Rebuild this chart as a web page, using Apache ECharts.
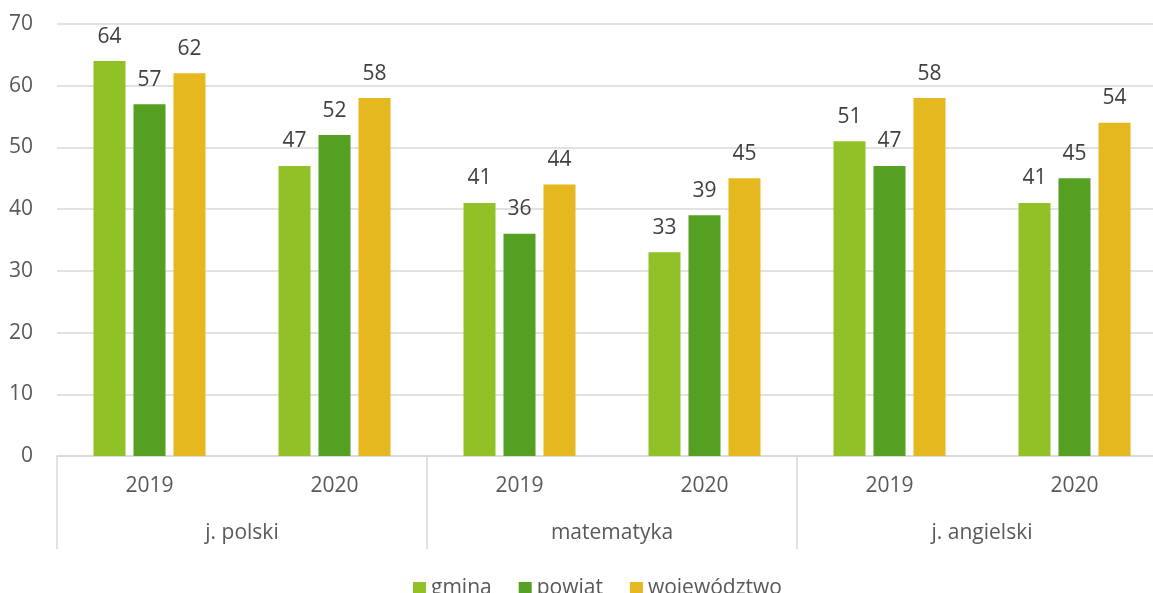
<!DOCTYPE html>
<html>
<head>
<meta charset="utf-8">
<script src="https://cdn.jsdelivr.net/npm/echarts@6/dist/echarts.min.js"></script>
<style>html,body{margin:0;padding:0;background:#fff}#c{width:1153px;height:593px}</style>
</head>
<body>
<div id="c"></div>
<script>
const years = ['2019','2020','2019','2020','2019','2020'];
const subjects = ['j. polski','matematyka','j. angielski'];
const gmina = [64,47,41,33,51,41];
const powiat = [57,52,36,39,47,45];
const wojewodztwo = [62,58,44,45,58,54];
const yTicks = {min:0, max:70, interval:10};

const FONT = '"Open Sans", sans-serif';
const chart = echarts.init(document.getElementById('c'));
const lbl = {show:true, position:'top', distance:14, color:'#404040', fontSize:21, fontFamily:FONT};
function mk(name, data, color){
  return {name, type:'bar', data, barWidth:32, barGap:'25%', xAxisIndex:0,
    itemStyle:{color}, label:lbl};
}
chart.setOption({
  animation:false,
  textStyle:{fontFamily:FONT},
  grid:{left:57, width:1110, top:24, bottom:137, outerBoundsMode:'none', containLabel:false},
  legend:{left:413, top:578, itemWidth:13, itemHeight:13, itemGap:27, icon:'rect',
    textStyle:{fontSize:21, color:'#595959', fontFamily:FONT}, padding:0},
  xAxis:[
    {type:'category', data:years, position:'bottom',
      axisLine:{show:true, lineStyle:{color:'#d9d9d9', width:1.5}},
      axisTick:{show:false},
      axisLabel:{color:'#595959', fontSize:21, fontFamily:FONT, margin:20}},
    {type:'category', data:subjects, position:'bottom',
      axisLine:{show:false},
      axisTick:{show:true, length:93, interval:0, lineStyle:{color:'#d9d9d9', width:1.5}},
      axisLabel:{color:'#595959', fontSize:21, fontFamily:FONT, margin:67}}
  ],
  yAxis:{type:'value', min:yTicks.min, max:yTicks.max, interval:yTicks.interval,
    axisLine:{show:false}, axisTick:{show:false},
    splitLine:{lineStyle:{color:'#d9d9d9', width:1.5}},
    axisLabel:{color:'#595959', fontSize:21, fontFamily:FONT, margin:24}},
  series:[
    mk('gmina', gmina, '#92C127'),
    mk('powiat', powiat, '#55A022'),
    mk('województwo', wojewodztwo, '#E6B820')
  ]
});
</script>
</body>
</html>
